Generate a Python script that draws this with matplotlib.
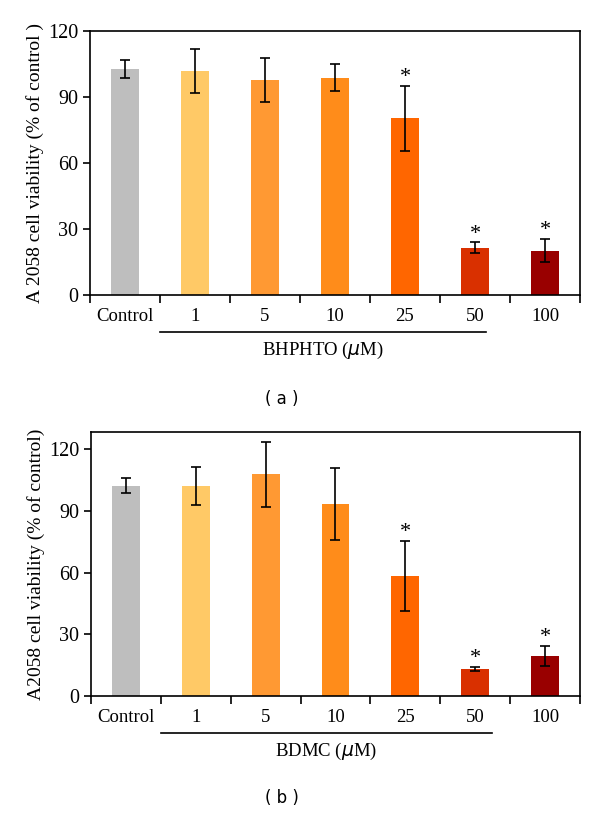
import matplotlib.pyplot as plt
import numpy as np

plt.rcParams['font.family'] = 'Liberation Serif'
plt.rcParams['font.size'] = 13
plt.rcParams['axes.linewidth'] = 1.2

categories = ['Control', '1', '5', '10', '25', '50', '100']
colors = ['#bebebe', '#ffc966', '#ff9933', '#ff8c1a', '#ff6600', '#d93000', '#990000']

# panel (a): BHPHTO
bhphto_mean = [102.7, 101.8, 97.7, 98.8, 80.3, 21.5, 20.2]
bhphto_err = [4.0, 10.0, 9.8, 6.0, 14.8, 2.4, 5.3]
bhphto_sig = [False, False, False, False, True, True, True]

# panel (b): BDMC
bdmc_mean = [102.2, 102.2, 107.7, 93.1, 58.5, 13.1, 19.6]
bdmc_err = [3.7, 9.2, 15.8, 17.5, 17.0, 1.1, 4.8]
bdmc_sig = [False, False, False, False, True, True, True]

W, H = 600, 813
fig = plt.figure(figsize=(W / 100, H / 100), dpi=100)


def panel(rect_px, mean, err, sig, ylim, ylabel, drug, line_end, tag):
    left, top, right, bottom = rect_px
    ax = fig.add_axes([left / W, 1 - bottom / H, (right - left) / W, (bottom - top) / H])
    x = np.arange(len(categories))
    ax.bar(x, mean, width=0.4, color=colors, zorder=2)
    ax.errorbar(x, mean, yerr=err, fmt='none', ecolor='black', elinewidth=1.2,
                capsize=3.5, capthick=1.2, zorder=3)
    for xi, m, e, s in zip(x, mean, err, sig):
        if s:
            ax.annotate('*', (xi, m + e), xytext=(0, 8), textcoords='offset pixels',
                        ha='center', va='center', fontsize=16)
    ax.set_xlim(-0.5, len(categories) - 0.5)
    ax.set_ylim(*ylim)
    ax.set_yticks([0, 30, 60, 90, 120])
    ax.set_xticks(np.arange(len(categories) + 1) - 0.5)
    ax.set_xticklabels([])
    ax.tick_params(axis='both', direction='out', length=5, width=1.2, labelsize=14.5)
    ax.tick_params(axis='x', length=6)
    for xi, lab in zip(x, categories):
        ax.text(xi, -0.08, lab, transform=ax.get_xaxis_transform(),
                ha='center', va='center', fontsize=13.5)
    ax.plot([0.5, line_end], [-0.14, -0.14], transform=ax.get_xaxis_transform(),
            color='black', lw=1.2, clip_on=False)
    ax.text((0.5 + line_end) / 2, -0.21, drug + r' ($\mu$M)', transform=ax.get_xaxis_transform(),
            ha='center', va='center', fontsize=13.5)
    ax.set_ylabel(ylabel, fontsize=14, labelpad=3)
    fig.text(282 / W, 1 - tag[1] / H, tag[0], ha='center', va='center',
             fontsize=12, family='DejaVu Sans')
    return ax


panel((90, 31, 580, 295), bhphto_mean, bhphto_err, bhphto_sig, (0, 120),
      'A 2058 cell viability (% of control )', 'BHPHTO', 5.16, ('( a )', 399))
panel((91, 432, 580, 696), bdmc_mean, bdmc_err, bdmc_sig, (0, 128.3),
      'A2058 cell viability (% of control)', 'BDMC', 5.24, ('( b )', 798))

fig.savefig('out.png', dpi=100, facecolor='white')
